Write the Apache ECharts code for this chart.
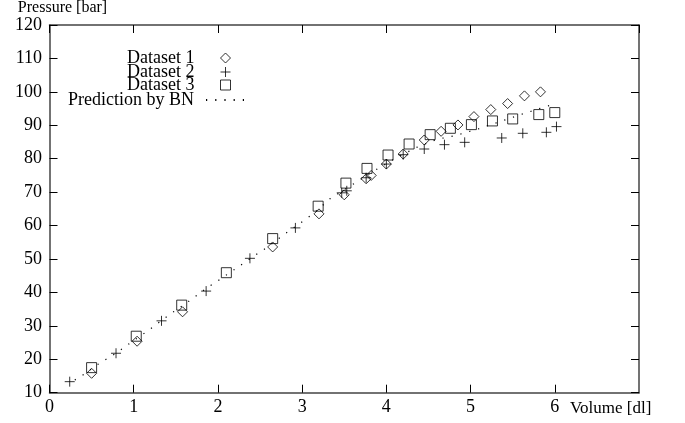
<!DOCTYPE html>
<html>
<head>
<meta charset="utf-8">
<script src="https://cdn.jsdelivr.net/npm/echarts@6/dist/echarts.min.js"></script>
<style>
html, body { margin: 0; padding: 0; background: #fff; }
#chart { width: 685px; height: 423px; }
</style>
</head>
<body>
<div id="chart"></div>
<script>
// values: [volume dl, pressure bar]
var dataset1 = [[0.50, 15.8], [1.04, 25.4], [1.58, 34.2], [2.65, 53.6], [3.20, 63.5], [3.50, 69.2],
    [3.76, 74.0], [3.82, 75.0], [4.00, 78.4], [4.20, 81.4], [4.45, 85.6], [4.65, 88.2], [4.85, 90.1],
    [5.04, 92.6], [5.24, 94.7], [5.44, 96.5], [5.64, 98.8], [5.83, 100.0]];
var dataset2 = [[0.24, 13.3], [0.79, 21.8], [1.33, 31.5], [1.86, 40.4], [2.38, 50.2], [2.92, 59.3],
    [3.47, 69.8], [3.53, 70.4], [3.76, 74.3], [4.00, 78.4], [4.20, 81.2], [4.45, 82.9], [4.69, 84.2],
    [4.93, 84.9], [5.37, 86.2], [5.62, 87.6], [5.90, 87.9], [6.02, 89.6]];
var dataset3 = [[0.50, 17.5], [1.03, 26.9], [1.57, 36.2], [2.10, 45.9], [2.65, 56.1], [3.19, 65.8],
    [3.52, 72.7], [3.77, 77.1], [4.02, 81.1], [4.27, 84.4], [4.52, 87.2], [4.76, 89.1], [5.01, 90.2],
    [5.26, 91.3], [5.50, 91.9], [5.81, 93.2], [6.00, 93.8]];
var prediction = [[0.30, 13.8], [0.38, 15.0], [0.61, 19.1], [0.74, 21.0], [0.85, 22.9], [0.96, 24.9],
    [1.19, 28.9], [1.41, 33.1], [1.64, 37.1], [1.86, 41.2], [1.99, 43.3], [2.21, 47.1], [2.44, 51.1],
    [2.56, 53.1], [2.79, 57.4], [3.01, 61.3], [3.13, 63.5], [3.33, 68.0], [3.60, 72.3], [3.85, 76.3],
    [4.10, 80.0], [4.35, 83.3], [4.60, 85.8], [4.82, 86.9], [4.95, 87.9], [5.09, 88.9], [5.35, 91.1],
    [5.62, 93.4], [5.88, 95.5], [6.02, 96.5]];
var seriesNames = ['Dataset 1', 'Dataset 2', 'Dataset 3', 'Prediction by BN'];

var font = 'Liberation Serif';
var axisColor = '#444';
var plusPath = 'path://M0,5L10,5M5,0L5,10';

var chartDom = document.getElementById('chart');
var myChart = echarts.init(chartDom);

function legendFor(name, top, right, width, gap) {
    return {
        data: [name],
        right: right,
        top: top,
        padding: 0,
        align: 'right',
        orient: 'vertical',
        selectedMode: false,
        itemWidth: width,
        itemHeight: 10,
        itemStyle: { borderWidth: 1 },
        textStyle: { fontFamily: font, fontSize: 18, color: '#000', lineHeight: 18, padding: [0, gap, 0, 0] }
    };
}

function baseAxis(extra) {
    var ax = {
        type: 'value',
        axisLine: { show: true, onZero: false, lineStyle: { color: axisColor, width: 1.5 } },
        axisTick: { show: true, inside: true, length: 8, lineStyle: { color: '#000', width: 1 } },
        splitLine: { show: false },
        axisLabel: { show: false }
    };
    for (var k in extra) ax[k] = extra[k];
    return ax;
}

var predLegend = legendFor(seriesNames[3], 91, 437, 41, 7);
predLegend.itemStyle = { color: 'rgba(0,0,0,0)', borderWidth: 0 };

var option = {
    animation: false,
    backgroundColor: '#fff',
    grid: { left: 49.5, right: 46, top: 24, bottom: 30.3 },
    legend: [
        legendFor(seriesNames[0], 49, 454, 10, 21),
        legendFor(seriesNames[1], 63, 454, 10, 21),
        legendFor(seriesNames[2], 76, 454, 10, 21),
        predLegend
    ],
    xAxis: [
        baseAxis({
            position: 'bottom', min: 0, max: 7, interval: 1,
            name: 'Volume [dl]', nameLocation: 'end', nameGap: -69,
            nameTextStyle: { fontFamily: font, fontSize: 17, color: '#000', align: 'left', verticalAlign: 'top', padding: [7, 0, 0, 0] },
            axisLabel: {
                show: true, margin: 6, fontFamily: font, fontSize: 18, color: '#000', showMaxLabel: false
            }
        }),
        baseAxis({ position: 'top', min: 0, max: 7, interval: 1 })
    ],
    yAxis: [
        baseAxis({
            position: 'left', min: 10, max: 120, interval: 10,
            name: 'Pressure [bar]', nameLocation: 'end', nameGap: 9,
            nameTextStyle: { fontFamily: font, fontSize: 16, color: '#000', padding: [0, 0, 0, 26] },
            axisLabel: { show: true, margin: 7.5, fontFamily: font, fontSize: 18, color: '#000' }
        }),
        baseAxis({ position: 'right', min: 10, max: 120, interval: 10 })
    ],
    series: [
        {
            name: seriesNames[3],
            type: 'line',
            data: prediction,
            symbol: 'none',
            lineStyle: { color: '#000', width: 1.2, type: [1.2, 8] },
            itemStyle: { color: '#000' },
            z: 1
        },
        {
            name: seriesNames[0],
            type: 'scatter',
            data: dataset1,
            symbol: 'diamond',
            symbolSize: 10,
            itemStyle: { color: 'rgba(255,255,255,0)', borderColor: '#000', borderWidth: 1 }
        },
        {
            name: seriesNames[1],
            type: 'scatter',
            data: dataset2,
            symbol: plusPath,
            symbolSize: 10,
            itemStyle: { color: 'rgba(255,255,255,0)', borderColor: '#000', borderWidth: 1 }
        },
        {
            name: seriesNames[2],
            type: 'scatter',
            data: dataset3,
            symbol: 'rect',
            symbolSize: 10,
            itemStyle: { color: 'rgba(255,255,255,0)', borderColor: '#000', borderWidth: 1 }
        }
    ]
};

option && myChart.setOption(option);
</script>
</body>
</html>
